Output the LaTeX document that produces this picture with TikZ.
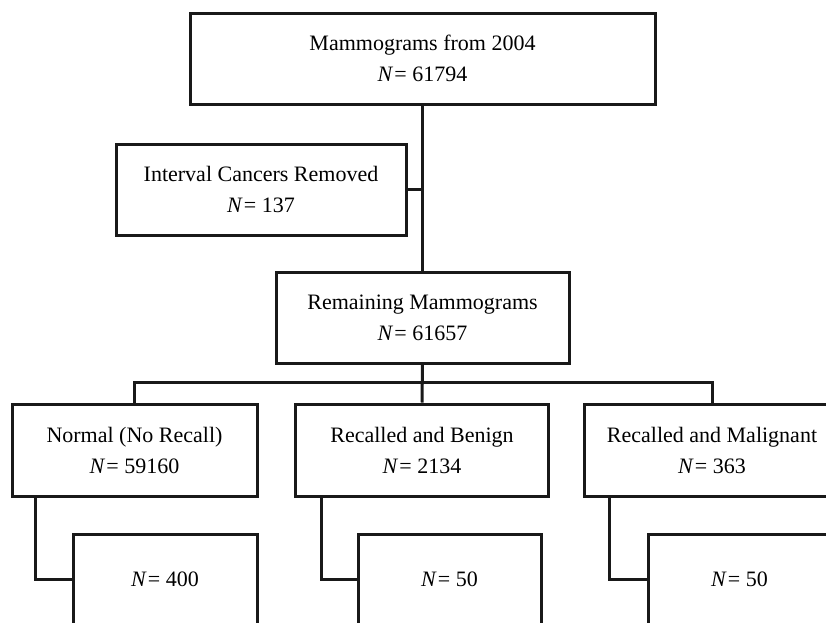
\documentclass[tikz,border=0pt]{standalone}
\usepackage{fontspec}
\setmainfont{Liberation Serif}
\begin{document}
\begin{tikzpicture}[x=1pt,y=-1pt,
  box/.style={draw=black!90, line width=3pt, fill=white, align=center,
    inner sep=0pt, font=\fontsize{22}{31}\selectfont},
  conn/.style={draw=black!90, line width=3pt}]
\useasboundingbox (0,0) rectangle (826,622);
\clip (0,0) rectangle (826,622);
% boxes
\node[box, minimum width=465, minimum height=91] (top) at (422.5,58.5)
  {Mammograms from 2004\\\textit{N}\kern1pt= 61794};
\node[box, minimum width=290, minimum height=91] (int) at (261,189.5)
  {Interval Cancers Removed\\\textit{N}\kern1pt= 137};
\node[box, minimum width=293, minimum height=91] (rem) at (422.5,317.5)
  {Remaining Mammograms\\\textit{N}\kern1pt= 61657};
\node[box, minimum width=245, minimum height=92] (nor) at (134.5,450)
  {Normal (No Recall)\\\textit{N}\kern1pt= 59160};
\node[box, minimum width=253, minimum height=92] (ben) at (422,450)
  {Recalled and Benign\\\textit{N}\kern1pt= 2134};
\node[box, minimum width=256, minimum height=92] (mal) at (712,450)
  {Recalled and Malignant\\\textit{N}\kern1pt= 363};
\node[box, minimum width=184, minimum height=90] (b1) at (165,579)
  {\textit{N}\kern1pt= 400};
\node[box, minimum width=183, minimum height=90] (b2) at (449.5,579)
  {\textit{N}\kern1pt= 50};
\node[box, minimum width=183, minimum height=90] (b3) at (739.5,579)
  {\textit{N}\kern1pt= 50};
% connectors
\draw[conn] (top.south) -- (rem.north);
\draw[conn] (int.east) -- (int.east -| top.south);
\draw[conn] (rem.south) -- (ben.north);
\draw[conn] (nor.north) -- ++(0,-20) -| (mal.north);
\draw[conn] ([xshift=25pt]nor.south west) |- (b1.west);
\draw[conn] ([xshift=27pt]ben.south west) |- (b2.west);
\draw[conn] ([xshift=27pt]mal.south west) |- (b3.west);
\end{tikzpicture}
\end{document}
